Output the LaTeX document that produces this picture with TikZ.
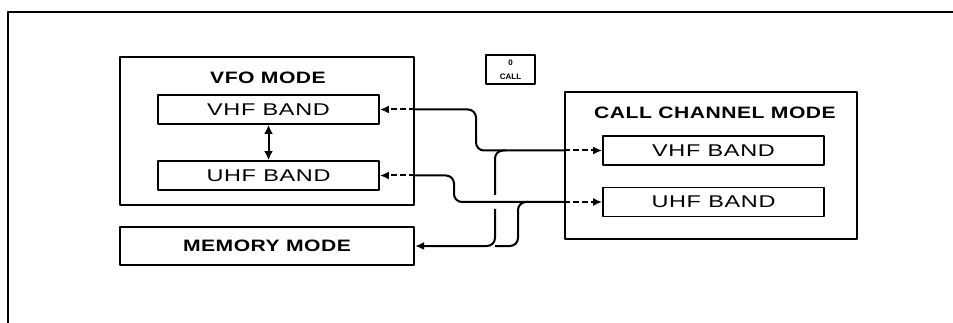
\documentclass[tikz,border=0pt]{standalone}
\usepackage{fontspec}
\setmainfont{Liberation Sans}
\newfontfamily\panelfont[FakeStretch=1.38,LetterSpace=4]{Liberation Sans}
\newfontfamily\titlefont[FakeStretch=1.28,LetterSpace=3]{Liberation Sans}
\usetikzlibrary{arrows.meta}

\begin{document}
\begin{tikzpicture}[x=1pt,y=-1pt,line join=round,
  frame/.style={draw,line width=2.2pt,inner sep=0pt},
  band/.style={draw,line width=1.8pt,inner sep=0pt,minimum width=221pt,minimum height=29pt,
    font=\panelfont\fontsize{17}{17}\selectfont},
  title/.style={font=\titlefont\bfseries\fontsize{16.5}{16.5}\selectfont},
  link/.style={line width=2pt,rounded corners=8pt},
  tip/.style={line width=2pt,dash pattern=on 6pt off 3pt,-{Latex[length=9pt,width=8pt]}}]
  \useasboundingbox (0,0) rectangle (953,323);
  \draw[line width=1.3pt] (8,323) -- (8,12) -- (953,12);
  % vfo mode
  \node[frame,minimum width=294pt,minimum height=148pt] (vfo) at (267,131) {};
  \node[title] (vfotitle) at (268,78) {VFO MODE};
  \node[band] (vhfA) at (268.5,109.5) {VHF BAND};
  \node[band] (uhfA) at (268.5,175.5) {UHF BAND};
  \draw[line width=2pt,{Latex[length=9pt,width=9pt]}-{Latex[length=9pt,width=9pt]}] (vhfA) -- (uhfA);
  % memory mode
  \node[frame,title,minimum width=294pt,minimum height=38pt] (mem) at (267,246) {MEMORY MODE};
  % call key
  \node[frame,line width=1.6pt,minimum width=49pt,minimum height=29pt,align=center,
    font=\bfseries\fontsize{8}{14}\selectfont] (callkey) at (510.5,69.5) {0\\CALL};
  % call channel mode
  \node[frame,minimum width=292pt,minimum height=147pt] (call) at (711,165.5) {};
  \node[title] (calltitle) at (715,113) {CALL CHANNEL MODE};
  \node[band] (vhfB) at (713.5,150.5) {VHF BAND};
  \node[band] (uhfB) at (713.5,202) {UHF BAND};
  % connectors
  \draw[link] (vfo.east |- vhfA.east) -- (476,109.5) -- (476,150.5) -- (call.west |- vhfB.west);
  \draw[tip] (vfo.east |- vhfA.east) -- (vhfA.east);
  \draw[tip] (call.west |- vhfB.west) -- (vhfB.west);
  \draw[link] (vfo.east |- uhfA.east) -- (454,175.5) -- (454,202) -- (call.west |- uhfB.west);
  \draw[tip] (vfo.east |- uhfA.east) -- (uhfA.east);
  \draw[tip] (call.west |- uhfB.west) -- (uhfB.west);
  \draw[link] (506,150.5) -- (495,150.5) -- (495,195);
  \draw[link,-{Latex[length=9pt,width=8pt]}] (495,209) -- (495,246) -- (mem.east);
  \draw[link] (529,202) -- (518,202) -- (518,246) -- (495,246);
\end{tikzpicture}
\end{document}
